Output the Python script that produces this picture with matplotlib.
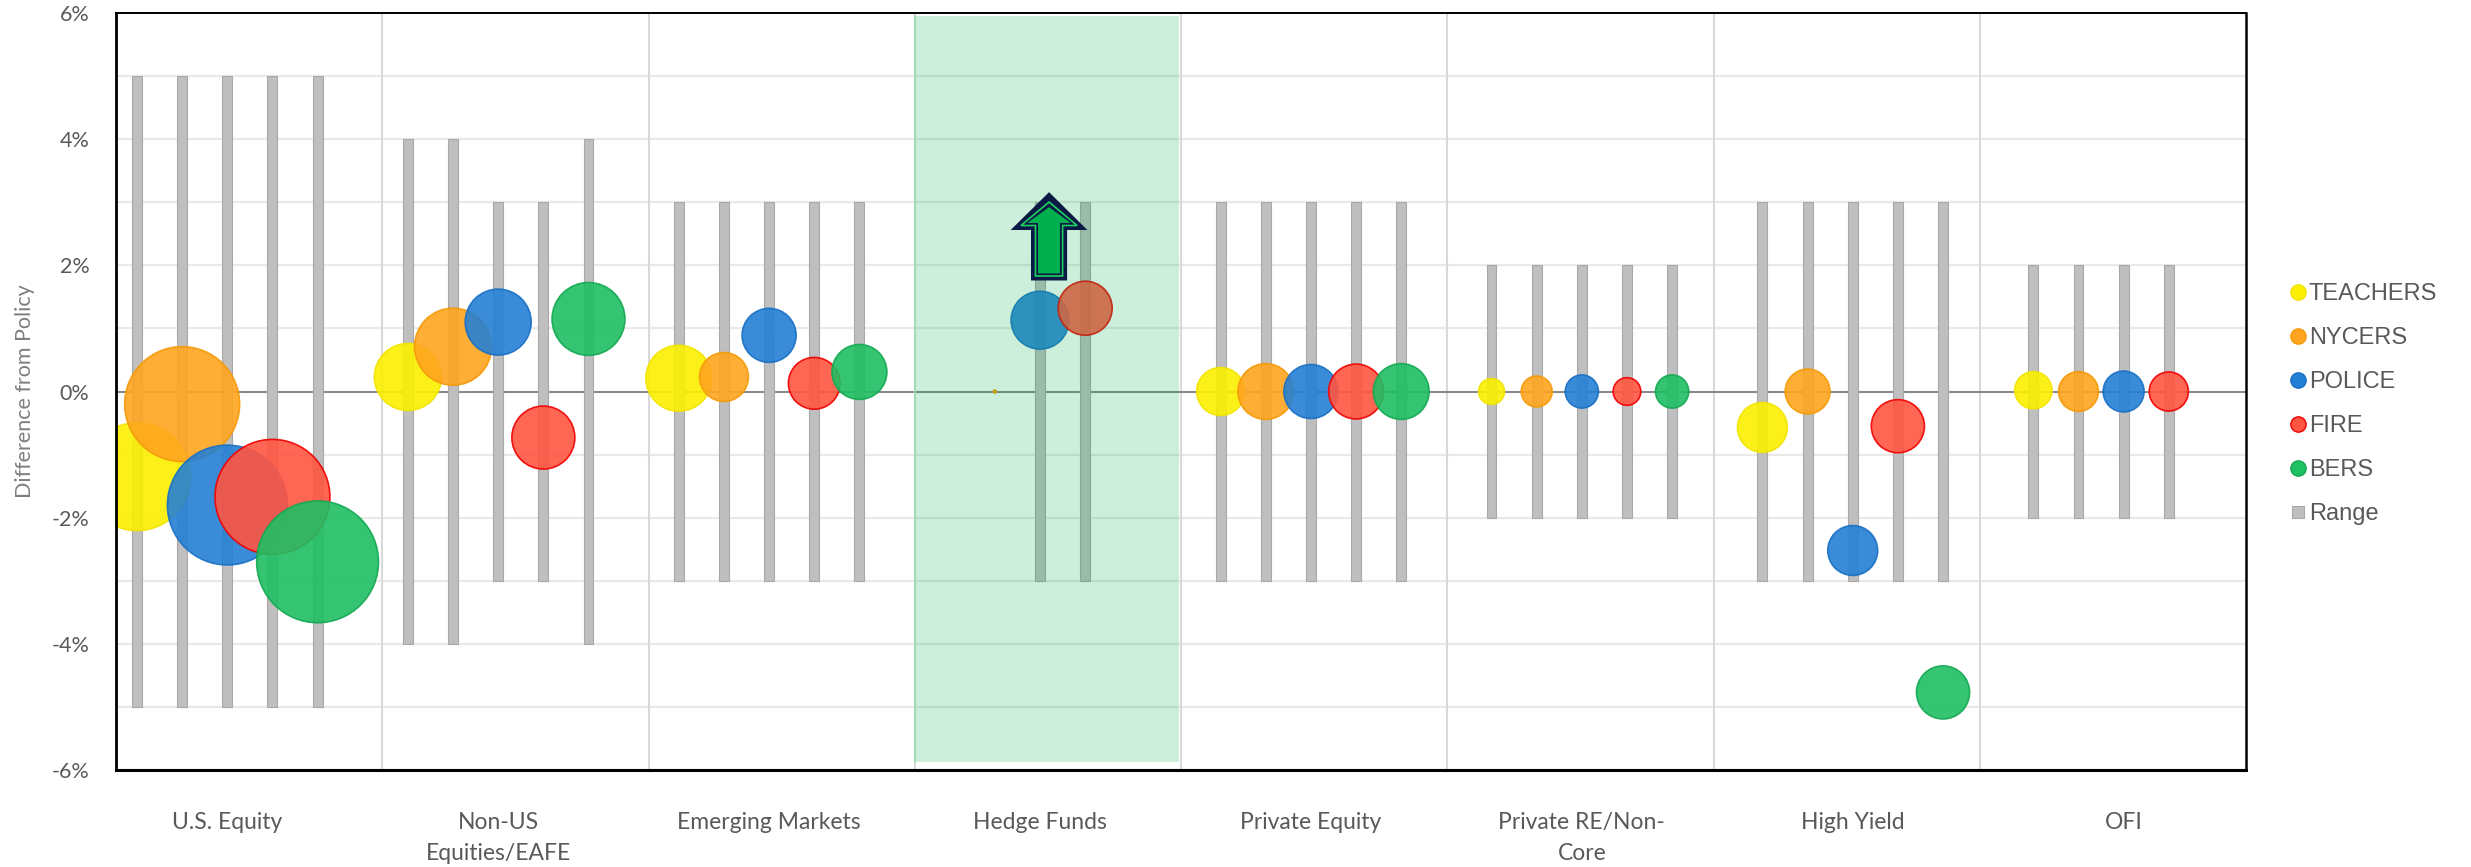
import numpy as np
import matplotlib
matplotlib.use("Agg")
import matplotlib.pyplot as plt
from matplotlib.lines import Line2D
from matplotlib.patches import Rectangle, Polygon

nan = np.nan

# ---- data -----------------------------------------------------------------
categories = ["U.S. Equity", "Non-US\nEquities/EAFE", "Emerging Markets", "Hedge Funds",
              "Private Equity", "Private RE/Non-\nCore", "High Yield", "OFI"]
systems = ["TEACHERS", "NYCERS", "POLICE", "FIRE", "BERS"]

# difference from policy target (%)
diff_teachers = [-1.35, 0.23, 0.21, nan, 0.00, 0.00, -0.57, 0.02]
diff_nycers   = [-0.20, 0.71, 0.23, 0.00, 0.00, 0.00, 0.00, 0.00]
diff_police   = [-1.80, 1.10, 0.89, 1.13, 0.00, 0.00, -2.52, 0.00]
diff_fire     = [-1.67, -0.73, 0.13, 1.32, 0.00, 0.00, -0.55, 0.00]
diff_bers     = [-2.70, 1.15, 0.31, nan, 0.00, 0.00, -4.77, nan]

# asset weight (% of fund) -> bubble area
wt_teachers = [24.3, 9.4, 9.1, nan, 4.8, 1.4, 5.2, 2.9]
wt_nycers   = [27.6, 12.4, 5.0, 0.02, 6.5, 2.0, 4.2, 3.3]
wt_police   = [30.0, 9.1, 6.1, 7.0, 6.1, 2.3, 5.2, 3.5]
wt_fire     = [27.6, 8.3, 5.6, 6.1, 6.3, 1.6, 5.9, 3.2]
wt_bers     = [31.0, 11.1, 6.3, nan, 6.5, 2.3, 5.9, nan]

# permitted band around policy (+/- %)
band_teachers = [5, 4, 3, nan, 3, 2, 3, 2]
band_nycers   = [5, 4, 3, nan, 3, 2, 3, 2]
band_police   = [5, 3, 3, 3, 3, 2, 3, 2]
band_fire     = [5, 3, 3, 3, 3, 2, 3, 2]
band_bers     = [5, 4, 3, nan, 3, 2, 3, nan]

diffs = [diff_teachers, diff_nycers, diff_police, diff_fire, diff_bers]
weights = [wt_teachers, wt_nycers, wt_police, wt_fire, wt_bers]
bands = [band_teachers, band_nycers, band_police, band_fire, band_bers]

y_ticks = [-6, -4, -2, 0, 2, 4, 6]
y_ticklabels = ["-6%", "-4%", "-2%", "0%", "2%", "4%", "6%"]

# ---- styles ---------------------------------------------------------------
face_colors = ["#fbf000", "#ffa51f", "#2480d4", "#ff5541", "#1fbf63"]
edge_colors = ["#f2e400", "#f59a08", "#1a70c4", "#f00000", "#14a852"]
bar_color, bar_edge = "#bfbfbf", "#a8a8a8"
text_gray = "#595959"
LABEL_FONT = ["Lato", "DejaVu Sans"]
LEGEND_FONT = ["Liberation Sans", "DejaVu Sans"]

SLOTS = 6          # x slots per asset class
AREA_PER_WEIGHT = 248.0  # pt^2 of bubble per weight point

W, H = 2471, 867
fig = plt.figure(figsize=(W / 100, H / 100), dpi=100)
ax = fig.add_axes([116 / W, 97 / H, 2130 / W, 757 / H])
x0, x1 = -0.465, 46.71
ax.set_xlim(x0, x1)
ax.set_ylim(-6, 6)

# grid
ax.set_yticks(y_ticks)
ax.set_yticklabels(y_ticklabels)
ax.set_yticks(np.arange(-6, 7, 1), minor=True)
ax.yaxis.grid(True, which="both", color="#e9e9e9", lw=1.6, zorder=0)
ax.set_axisbelow(True)
for k in range(1, len(categories)):
    ax.axvline(x0 + k * (x1 - x0) / len(categories), color="#d9d9d9", lw=1.5, zorder=0.6)
ax.axhline(0, color="#7f7f7f", lw=1.3, zorder=1)

# range bars and bubbles
for j, name in enumerate(systems):
    xs = np.array([SLOTS * k + j for k in range(len(categories))], dtype=float)
    band = np.array(bands[j], dtype=float)
    ok = ~np.isnan(band)
    ax.bar(xs[ok], 2 * band[ok], bottom=-band[ok], width=0.22, color=bar_color,
           edgecolor=bar_edge, linewidth=0.8, zorder=2)
    d = np.array(diffs[j], dtype=float)
    w = np.array(weights[j], dtype=float)
    okb = ~np.isnan(d)
    ax.scatter(xs[okb], d[okb], s=AREA_PER_WEIGHT * w[okb], color=face_colors[j],
               edgecolors=edge_colors[j], linewidths=1.2, alpha=0.9, zorder=3)

# highlight Hedge Funds column
hf = categories.index("Hedge Funds")
ax.add_patch(Rectangle((hf / len(categories), -5.88), 1 / len(categories) - 0.0008, 11.83,
                       transform=ax.get_yaxis_transform(), facecolor="#00b050",
                       alpha=0.2, edgecolor="none", zorder=4))
ax.plot([x0 + hf * (x1 - x0) / len(categories)] * 2, [-5.88, 5.95],
        color="#a6d8b8", lw=1.3, zorder=4)

# up arrow over Hedge Funds
def arrow_poly(xc, hh, hs, yb, yn, yt):
    return [(xc - hs, yb), (xc + hs, yb), (xc + hs, yn), (xc + hh, yn),
            (xc, yt), (xc - hh, yn), (xc - hs, yn)]

px, py = 1 / 45.15, 1 / 63.1
xc = SLOTS * hf + 2.2
hh, hs, yb, yn, yt = 0.85, 0.40, 1.76, 2.56, 3.16
ax.add_patch(Polygon(arrow_poly(xc, hh, hs, yb, yn, yt), closed=True,
                     facecolor="#0b1a45", edgecolor="none", zorder=6))
d1 = 4.5
ax.add_patch(Polygon(arrow_poly(xc, hh - 2.3 * d1 * px, hs - d1 * px, yb + d1 * py,
                                yn + d1 * py, yt - 2.2 * d1 * py), closed=True,
                     facecolor="none", edgecolor="#1fd060", lw=1.2, zorder=7))
d2 = 6.5
ax.add_patch(Polygon(arrow_poly(xc, hh - 2.3 * d2 * px, hs - d2 * px, yb + d2 * py,
                                yn + d2 * py, yt - 2.2 * d2 * py), closed=True,
                     facecolor="#00b04f", edgecolor="#0b1a45", lw=0.8, zorder=8))

# axes decoration
ax.set_xticks([SLOTS * k + 2 for k in range(len(categories))])
ax.set_xticklabels(categories, fontsize=16.5, color=text_gray, family=LABEL_FONT,
                   linespacing=1.6, va="top")
ax.tick_params(axis="x", length=0, pad=30)
ax.tick_params(axis="y", which="both", length=0, pad=19)
for lab in ax.get_yticklabels():
    lab.set_fontsize(15.5)
    lab.set_color(text_gray)
    lab.set_family(LABEL_FONT)
ax.set_ylabel("Difference from Policy", fontsize=15.5, color="#7f7f7f", family=LABEL_FONT)
ax.yaxis.set_label_coords(-0.038, 0.5)

ax.spines["left"].set_linewidth(2.0)
ax.spines["bottom"].set_linewidth(2.2)
ax.spines["top"].set_linewidth(1.4)
ax.spines["right"].set_linewidth(1.8)
for s in ax.spines.values():
    s.set_color("black")
    s.set_zorder(9)

# legend
handles = [Line2D([], [], ls="none", marker="o", markersize=11, markerfacecolor=face_colors[j],
                  markeredgecolor=edge_colors[j], markeredgewidth=1.0) for j in range(len(systems))]
handles.append(Line2D([], [], ls="none", marker="s", markersize=9, markerfacecolor=bar_color,
                      markeredgecolor=bar_edge, markeredgewidth=0.8))
leg = fig.legend(handles, systems + ["Range"], loc="upper left",
                 bbox_to_anchor=(2290 / W, 1 - 283 / H), frameon=False,
                 handlelength=0.7, handletextpad=0.1, labelspacing=0.93,
                 borderpad=0, borderaxespad=0,
                 prop={"family": LEGEND_FONT, "size": 17})
for t in leg.get_texts():
    t.set_color(text_gray)

fig.savefig("out.png", dpi=100, facecolor="white")
